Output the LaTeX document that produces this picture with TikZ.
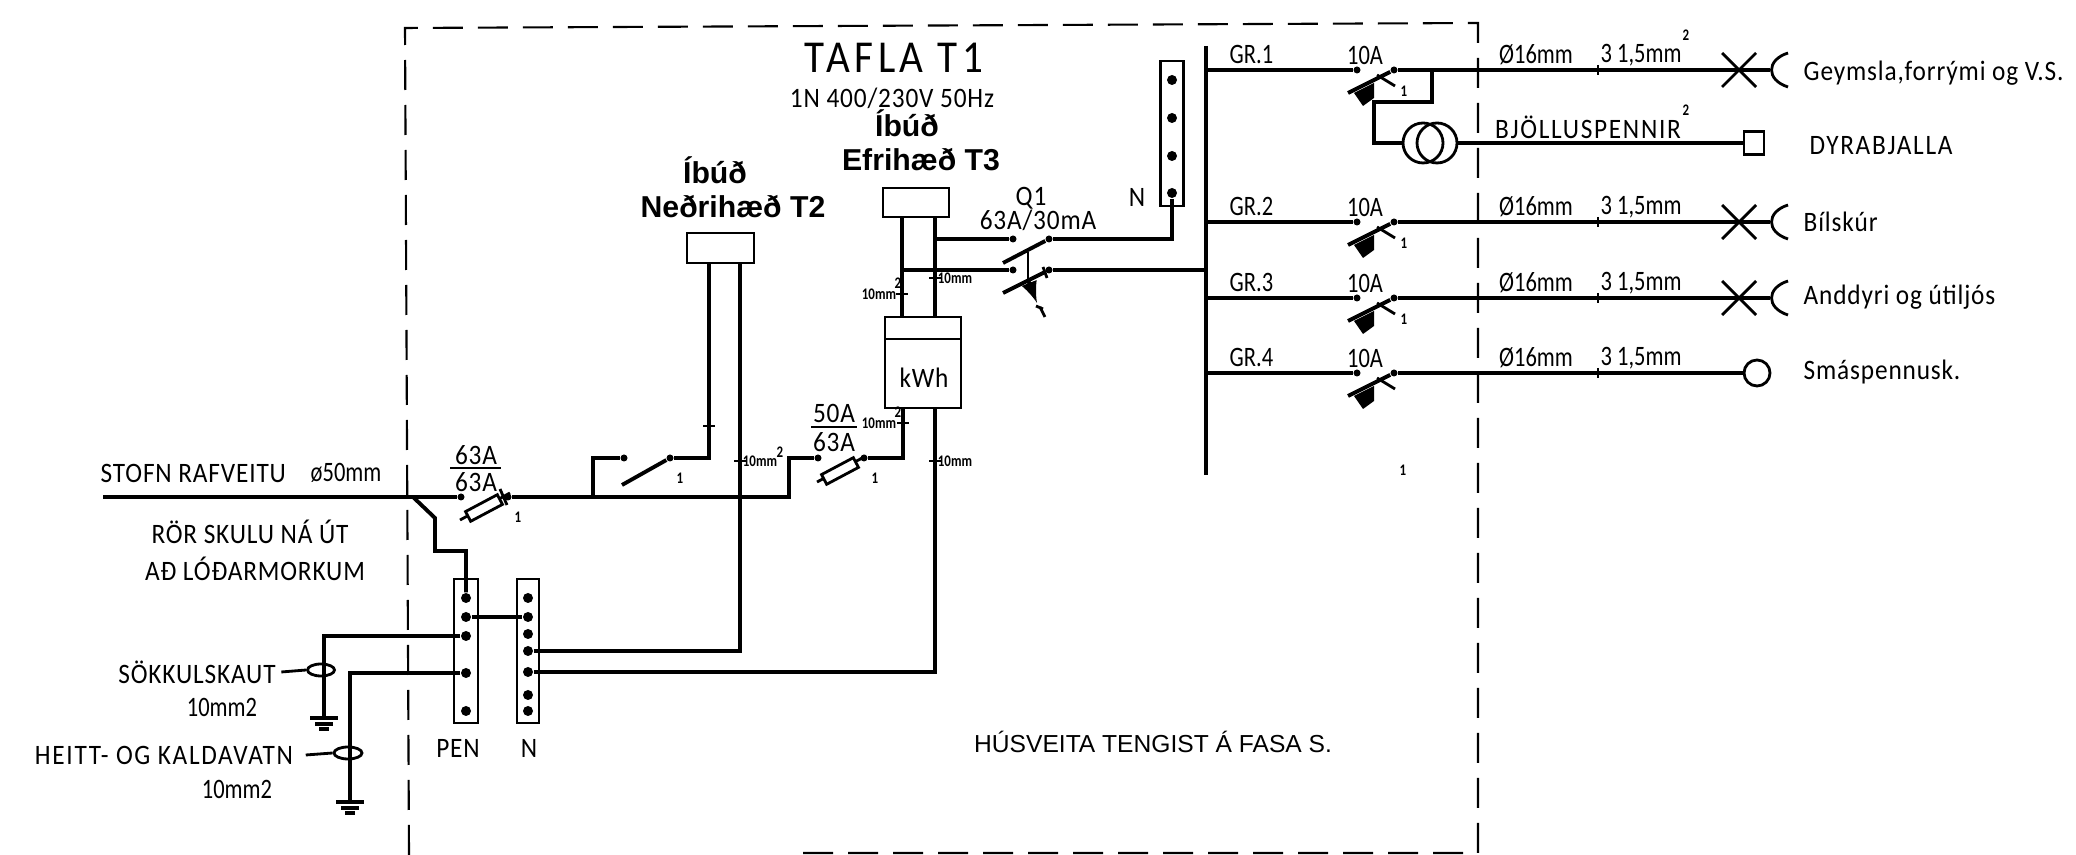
\documentclass[tikz,border=0pt]{standalone}
\usepackage{fontspec}
\setmainfont{Carlito}
\newfontfamily\headfont{Liberation Sans}
\newfontfamily\widefont[FakeStretch=.9, LetterSpace=3]{Carlito}
\newfontfamily\capsfont[FakeStretch=.9, LetterSpace=6]{Carlito}
\newfontfamily\titlefont[FakeStretch=.9, LetterSpace=10]{Carlito}
\newfontfamily\slimfont[FakeStretch=.8]{Carlito}
\usetikzlibrary{positioning, shapes.geometric}

\begin{document}
\begin{tikzpicture}[
lbl/.style = {inner sep=0pt, font=\widefont\fontsize{8}{9}\selectfont},
caps/.style = {inner sep=0pt, font=\capsfont\fontsize{8}{9}\selectfont},
slim/.style = {inner sep=0pt, font=\slimfont\fontsize{8}{9}\selectfont},
tiny/.style = {inner sep=0pt, font=\slimfont\bfseries\fontsize{4.6}{6}\selectfont},
head/.style = {inner sep=0pt, font=\headfont\bfseries\fontsize{8.6}{11}\selectfont},
wire/.style = {line width=1.1pt},
fine/.style = {line width=.8pt},
dot/.style = {circle, fill=black, inner sep=0pt, minimum size=.07cm},
tdot/.style = {circle, fill=black, inner sep=0pt, minimum size=.1cm},
block/.style = {rectangle, draw=black, line width=.8pt, inner sep=0pt},
ring/.style = {ellipse, draw=black, fine, inner sep=0pt},
fuse/.style = {rectangle, draw=black, fine, inner sep=0pt, minimum width=.36cm, minimum height=.11cm, rotate=28}]

  \useasboundingbox (0,0) rectangle (20.76,8.55);

  \draw[line width=.6pt, dash pattern=on .30cm off .15cm] (4.09,0) -- (4.05,8.27) -- (14.78,8.32) -- (14.78,.02) -- (7.90,.02);

  \node[inner sep=0pt, font=\titlefont\fontsize{13}{15}\selectfont] (title) at (8.94,7.97) {TAFLA T1};
  \node[lbl] (supply) at (8.92,7.57) {1N 400/230V 50Hz};

  \coordinate (bus_top) at (12.06,8.09);
  \coordinate (bus_end) at (12.06,3.80);
  \draw[wire] (bus_top) -- (bus_end);

  \foreach \row/\ypos/\grp/\load/\loady in {1/7.85/GR.1/{Geymsla,forrými og V.S.}/7.82, 2/6.33/GR.2/Bílskúr/6.33, 3/5.57/GR.3/Anddyri og útiljós/5.58, 4/4.82/GR.4/Smáspennusk./4.83}
  {
    \coordinate (gr\row_bus) at (12.06,\ypos);
    \node[dot] (gr\row_in) at (13.57,\ypos) {};
    \node[dot] (gr\row_out) at (13.94,\ypos) {};
    \draw[wire] (gr\row_bus) -- (gr\row_in);
    \draw[wire] (gr\row_out) -- (13.48,\ypos-.23);
    \draw[fine] (13.77,\ypos-.05) -- (13.95,\ypos-.16);
    \fill (13.54,\ypos-.23) -- (13.74,\ypos-.13) -- (13.74,\ypos-.28) -- (13.63,\ypos-.36) -- cycle;
    \node[slim, anchor=west] (gr\row_name) at (12.29,\ypos+.15) {\grp};
    \node[slim] (gr\row_amp) at (13.65,\ypos+.15) {10A};
    \node[slim] (gr\row_dia) at (15.36,\ypos+.15) {Ø16mm};
    \node[slim] (gr\row_area) at (16.41,\ypos+.15) {3 1,5mm};
    \node[lbl, anchor=west] (gr\row_load) at (18.03,\loady) {\load};
    \draw[fine] (15.98,\ypos+.05) -- (15.98,\ypos-.05);
  }

  \foreach \row/\ypos in {1/7.85, 2/6.33, 3/5.57}
  {
    \coordinate (gr\row_end) at (17.70,\ypos);
    \draw[wire] (gr\row_out) -- (gr\row_end);
    \draw[fine] (17.22,\ypos+.17) -- (17.56,\ypos-.17);
    \draw[fine] (17.22,\ypos-.17) -- (17.56,\ypos+.17);
    \draw[fine] (17.88,\ypos+.17) .. controls (17.66,\ypos+.10) and (17.66,\ypos-.10) .. (17.88,\ypos-.17);
    \node[tiny] (gr\row_one) at (14.04,\ypos-.21) {1};
  }
  \node[circle, draw=black, fine, inner sep=0pt, minimum size=.26cm] (gr4_end) at (17.57,4.82) {};
  \draw[wire] (gr4_out) -- (gr4_end);

  \coordinate (tap) at (14.32,7.85);
  \coordinate (tr_bend) at (13.74,7.53);
  \node[circle, draw=black, fine, inner sep=0pt, minimum size=.40cm] (tr_a) at (14.23,7.12) {};
  \node[circle, draw=black, fine, inner sep=0pt, minimum size=.40cm] (tr_b) at (14.37,7.12) {};
  \node[block, minimum width=.20cm, minimum height=.23cm] (bell) at (17.54,7.12) {};
  \draw[wire] (tap) |- (tr_bend) |- (tr_a.west);
  \draw[wire] (tr_b.east) -- (bell.west);
  \node[caps] (bell_cable) at (15.88,7.28) {BJÖLLUSPENNIR};
  \node[caps] (bell_load) at (18.81,7.09) {DYRABJALLA};
  \node[tiny] (gr1_sq) at (16.86,8.20) {2};
  \node[tiny] (bell_sq) at (16.86,7.45) {2};

  \node[block, minimum width=.23cm, minimum height=1.45cm] (n_top) at (11.72,7.215) {};
  \foreach \i/\ypos in {1/7.75, 2/7.37, 3/6.99, 4/6.62}
    \node[tdot] (nt_\i) at (11.72,\ypos) {};
  \node[lbl] (n_top_lbl) at (11.37,6.58) {N};

  \node[lbl] (q1_name) at (10.31,6.57) {Q1};
  \node[lbl] (q1_rate) at (10.38,6.35) {63A/30mA};
  \node[dot] (q1_a) at (10.13,6.16) {};
  \node[dot] (q1_b) at (10.13,5.85) {};
  \node[dot] (q1_c) at (10.49,6.16) {};
  \node[dot] (q1_d) at (10.49,5.85) {};
  \coordinate (q1_bus) at (12.06,5.85);
  \draw[wire] (q1_c) -- (10.03,5.92);
  \draw[wire] (q1_d) -- (10.03,5.62);
  \draw[fine] (10.28,6.03) -- (10.28,5.75);
  \draw[wire, -latex] (10.28,5.75) -- (10.37,5.52);
  \draw[fine] (10.36,5.49) -- (10.43,5.46);
  \draw[fine] (10.40,5.48) -- (10.45,5.38);
  \draw[fine] (10.43,5.88) -- (10.47,5.77);
  \draw[wire] (q1_c) -| (nt_4);
  \draw[wire] (q1_d) -- (q1_bus);

  \node[block, minimum width=.67cm, minimum height=.30cm] (t2) at (7.205,6.07) {};
  \node[head] (t2_flat) at (7.15,6.85) {Íbúð};
  \node[head] (t2_name) at (7.33,6.48) {Neðrihæð T2};
  \node[block, minimum width=.66cm, minimum height=.29cm] (t3) at (9.16,6.525) {};
  \node[head] (t3_flat) at (9.07,7.32) {Íbúð};
  \node[head] (t3_name) at (9.21,6.95) {Efrihæð T3};

  \node[block, minimum width=.76cm, minimum height=.91cm] (meter) at (9.23,4.925) {};
  \node[lbl] (meter_lbl) at (9.24,4.77) {kWh};
  \coordinate (bar_l) at (8.85,5.16);
  \coordinate (bar_r) at (9.61,5.16);
  \draw[block] (bar_l) -- (bar_r);
  \coordinate (t3_l) at (9.02,6.38);
  \coordinate (t3_r) at (9.35,6.38);
  \coordinate (m_tl) at (9.02,5.38);
  \coordinate (m_tr) at (9.35,5.38);
  \coordinate (m_bl) at (9.03,4.47);
  \coordinate (m_br) at (9.35,4.47);
  \coordinate (t3_t) at (9.02,5.85);
  \coordinate (t3_s) at (9.35,6.16);
  \draw[wire] (t3_l) -- (m_tl);
  \draw[wire] (t3_r) -- (m_tr);
  \draw[wire] (t3_t) -- (q1_b);
  \draw[wire] (t3_s) -- (q1_a);

  \coordinate (main_in) at (1.03,3.58);
  \node[dot] (f1_a) at (4.61,3.58) {};
  \node[dot] (f1_b) at (5.08,3.58) {};
  \coordinate (main_sw) at (5.93,3.58);
  \coordinate (main_end) at (7.89,3.58);
  \node[dot] (sw_a) at (6.24,3.97) {};
  \node[dot] (sw_b) at (6.70,3.97) {};
  \node[dot] (f2_a) at (8.18,3.97) {};
  \node[dot] (f2_b) at (8.64,3.97) {};
  \coordinate (t2_l) at (7.09,5.92);
  \coordinate (t2_r) at (7.40,5.92);
  \draw[line width=1.4pt] (main_in) -- (f1_a);
  \draw[wire] (f1_b) -- (main_end) |- (f2_a);
  \draw[wire] (main_sw) |- (sw_a);
  \draw[wire] (sw_b) -| (t2_l);
  \draw[wire] (sw_b) -- (6.22,3.70);
  \draw[wire] (f2_b) -| (m_bl);
  \draw[fine] (4.60,3.35) -- (5.10,3.62);
  \draw[fine] (8.17,3.73) -- (8.66,3.99);
  \draw[fine] (5.00,3.66) -- (5.07,3.50);
  \node[fuse, fill=white] (f1) at (4.84,3.47) {};
  \node[fuse, fill=white] (f2) at (8.40,3.84) {};

  \node[lbl] (f1_top) at (4.76,4.00) {63A};
  \node[lbl] (f1_low) at (4.76,3.73) {63A};
  \coordinate (f1_bar_l) at (4.50,3.87);
  \coordinate (f1_bar_r) at (5.01,3.87);
  \draw[fine] (f1_bar_l) -- (f1_bar_r);
  \node[tiny] (f1_one) at (5.18,3.38) {1};
  \node[lbl] (f2_top) at (8.34,4.42) {50A};
  \node[lbl] (f2_low) at (8.34,4.13) {63A};
  \coordinate (f2_bar_l) at (8.11,4.28);
  \coordinate (f2_bar_r) at (8.57,4.28);
  \draw[fine] (f2_bar_l) -- (f2_bar_r);
  \node[tiny] (f2_one) at (8.75,3.77) {1};
  \node[tiny] (sw_one) at (6.80,3.77) {1};
  \node[tiny] (spare_one) at (14.03,3.85) {1};

  \node[lbl, anchor=west] (mains) at (1.00,3.82) {STOFN RAFVEITU};
  \node[slim, anchor=west] (mains_dia) at (3.10,3.82) {ø50mm};
  \node[lbl] (pipes_a) at (2.50,3.23) {RÖR SKULU NÁ ÚT};
  \node[lbl] (pipes_b) at (2.55,2.86) {AÐ LÓÐARMORKUM};

  \node[block, minimum width=.24cm, minimum height=1.44cm] (pen) at (4.66,2.04) {};
  \node[block, minimum width=.22cm, minimum height=1.44cm] (n_low) at (5.28,2.04) {};
  \foreach \i/\ypos in {1/2.57, 2/2.38, 3/2.19, 4/1.82, 5/1.44}
    \node[tdot] (pen_\i) at (4.66,\ypos) {};
  \foreach \i/\ypos in {1/2.57, 2/2.38, 3/2.21, 4/2.04, 5/1.83, 6/1.60, 7/1.44}
    \node[tdot] (nl_\i) at (5.28,\ypos) {};
  \node[lbl] (pen_lbl) at (4.58,1.07) {PEN};
  \node[lbl] (n_low_lbl) at (5.29,1.07) {N};

  \coordinate (tee) at (4.13,3.58);
  \coordinate (tee_a) at (4.35,3.37);
  \coordinate (tee_b) at (4.35,3.04);
  \draw[wire] (tee) -- (tee_a) -- (tee_b) -| (pen_1);
  \draw[wire] (pen_2) -- (nl_2);
  \draw[wire] (nl_4) -| (t2_r);
  \draw[wire] (nl_5) -| (m_br);

  \coordinate (gnd_a) at (3.24,1.37);
  \coordinate (gnd_b) at (3.50,.53);
  \draw[wire] (pen_3) -| (gnd_a);
  \draw[wire] (pen_4) -| (gnd_b);
  \foreach \gnd in {gnd_a, gnd_b}
  {
    \draw[wire] ([xshift=-.14cm]\gnd) -- ([xshift=.14cm]\gnd);
    \draw[wire] ([xshift=-.09cm, yshift=-.06cm]\gnd) -- ([xshift=.09cm, yshift=-.06cm]\gnd);
    \draw[wire] ([xshift=-.05cm, yshift=-.11cm]\gnd) -- ([xshift=.05cm, yshift=-.11cm]\gnd);
  }

  \node[ring, minimum width=.27cm, minimum height=.12cm] (ring_a) at (3.21,1.85) {};
  \node[ring, minimum width=.28cm, minimum height=.12cm] (ring_b) at (3.48,1.02) {};
  \node[lbl] (sok) at (1.97,1.83) {SÖKKULSKAUT};
  \node[slim] (sok_mm) at (2.22,1.48) {10mm2};
  \node[caps] (heitt) at (1.64,1.00) {HEITT- OG KALDAVATN};
  \node[slim] (heitt_mm) at (2.37,.66) {10mm2};
  \draw[fine] ([xshift=.05cm]sok.east) -- (ring_a.west);
  \draw[fine] ([xshift=.12cm]heitt.east) -- (ring_b.west);

  \foreach \tx/\ty in {7.09/4.29, 7.40/3.94, 9.35/5.77, 9.02/5.61, 9.03/4.32, 9.35/3.94}
    \draw[fine] (\tx-.06,\ty) -- (\tx+.06,\ty);
  \node[tiny] (cab_a) at (7.60,3.94) {10mm};
  \node[tiny] (cab_a_sq) at (7.80,4.03) {2};
  \node[tiny] (cab_b) at (9.55,5.77) {10mm};
  \node[tiny] (cab_c) at (8.79,5.61) {10mm};
  \node[tiny] (cab_c_sq) at (8.98,5.72) {2};
  \node[tiny] (cab_d) at (8.79,4.32) {10mm};
  \node[tiny] (cab_d_sq) at (8.98,4.43) {2};
  \node[tiny] (cab_e) at (9.55,3.94) {10mm};

  \node[inner sep=0pt, font=\headfont\fontsize{7}{9}\selectfont] (heating) at (11.53,1.13) {HÚSVEITA TENGIST Á FASA S.};

\end{tikzpicture}
\end{document}
